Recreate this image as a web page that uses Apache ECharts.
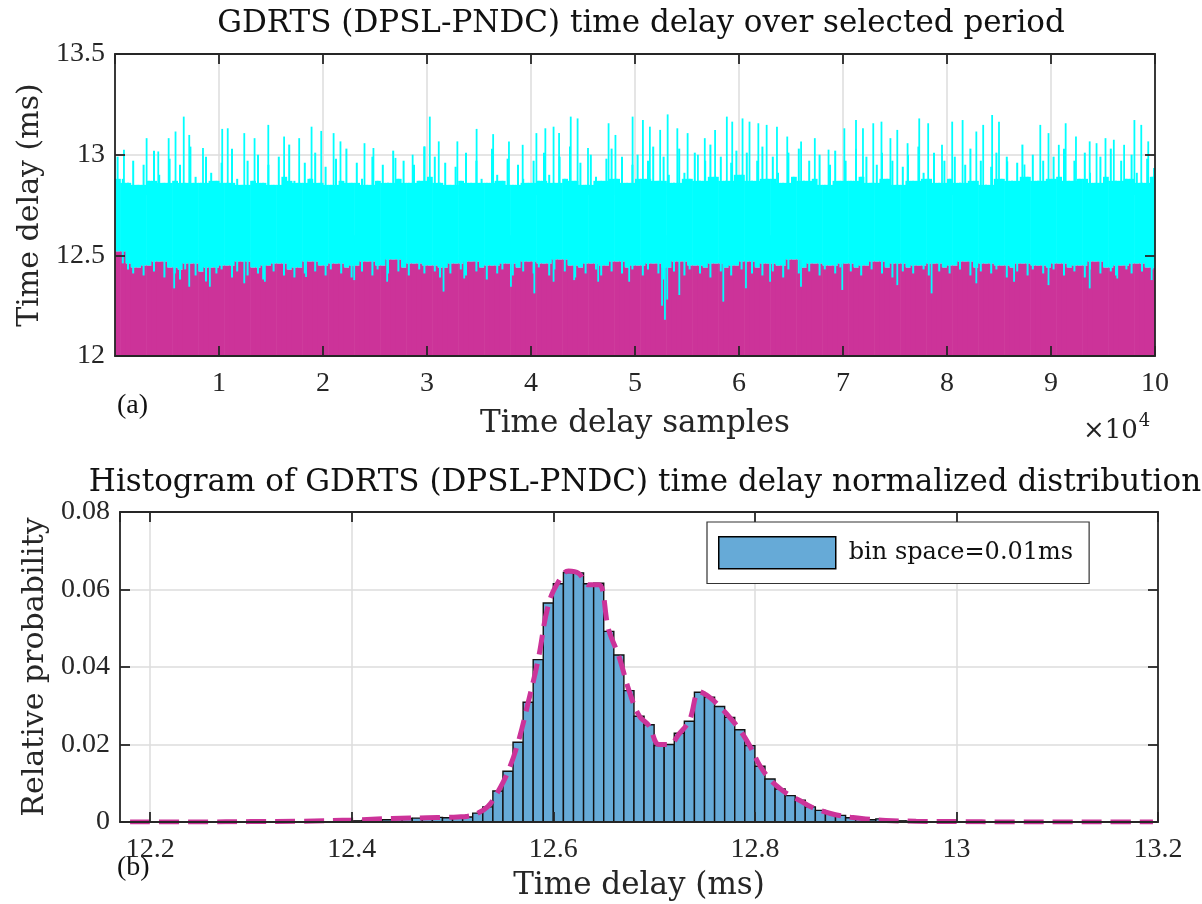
<!DOCTYPE html>
<html>
<head>
<meta charset="utf-8">
<script src="https://cdn.jsdelivr.net/npm/echarts@6/dist/echarts.min.js"></script>
<style>
html,body{margin:0;padding:0;background:#fff;}
#chart{width:1202px;height:904px;}
</style>
</head>
<body>
<div id="chart"></div>
<script>
// ---------------- DATA ----------------
// Panel (a): per 500-sample bucket, highest and lowest delay (ms)
const bucketSize = 500;
const bandMax = [
12.99,12.88,12.86,12.97,12.85,12.95,12.87,13.02,12.90,12.86,12.98,12.87,12.95,12.86,13.04,12.89,12.86,12.99,12.91,12.87,
12.96,12.86,13.03,12.88,12.85,12.97,12.87,13.00,12.86,12.95,12.85,12.99,12.89,13.05,12.87,12.86,12.96,12.88,13.01,12.86,
12.94,12.85,12.98,12.87,13.03,12.86,12.96,12.88,12.85,12.99,12.87,12.95,12.86,13.02,12.88,12.97,12.86,12.95,12.87,13.04,
12.89,12.99,12.86,12.96,12.85,12.94,12.87,13.01,12.86,12.97,12.88,12.86,13.03,12.90,12.87,12.98,12.85,12.95,12.88,12.86,
12.97,12.87,13.01,12.90,12.86,12.99,12.88,13.04,12.87,12.96,12.85,13.00,12.89,12.87,12.98,13.03,12.88,12.99,12.86,12.95,
13.00,12.88,12.97,13.04,12.87,12.99,12.90,12.86,13.03,12.91,12.88,13.01,12.87,12.97,13.05,12.89,12.99,12.87,12.96,13.02,
12.90,13.01,12.87,12.97,13.04,12.88,12.99,12.91,12.86,13.01,12.89,13.03,12.87,12.97,12.88,13.00,12.85,12.95,13.02,12.87,
12.97,12.87,13.03,12.89,12.99,12.86,12.95,13.01,12.88,12.97,12.85,12.94,13.00,12.87,13.04,12.91,12.88,13.01,12.86,12.97,
12.88,12.99,12.86,12.95,13.03,12.87,12.97,12.85,12.94,13.01,12.88,12.99,12.87,12.96,13.05,12.89,13.00,12.87,12.97,12.88,
12.99,12.89,13.03,12.87,12.97,12.88,13.01,12.91,12.86,12.99,12.89,13.03,12.87,12.97,12.88,13.00,12.91,12.86,12.98,12.89
];
const bandMin = [
12.52,12.46,12.43,12.41,12.44,12.40,12.45,12.42,12.47,12.39,12.44,12.41,12.38,12.43,12.46,12.40,12.42,12.37,12.44,12.41,
12.43,12.45,12.39,12.42,12.47,12.40,12.44,12.41,12.38,12.45,12.42,12.46,12.40,12.43,12.39,12.44,12.41,12.47,12.42,12.45,
12.40,12.43,12.46,12.41,12.44,12.39,12.45,12.42,12.47,12.40,12.43,12.45,12.41,12.48,12.42,12.44,12.40,12.46,12.43,12.41,
12.45,12.42,12.39,12.44,12.41,12.46,12.43,12.40,12.47,12.42,12.44,12.38,12.45,12.41,12.43,12.46,12.40,12.44,12.42,12.47,
12.41,12.44,12.46,12.40,12.43,12.48,12.42,12.45,12.39,12.44,12.41,12.46,12.43,12.40,12.45,12.42,12.47,12.41,12.44,12.43,
12.45,12.40,12.43,12.46,12.41,12.38,12.44,12.42,12.47,12.40,12.43,12.45,12.41,12.44,12.39,12.46,12.42,12.44,12.40,12.45,
12.43,12.47,12.41,12.44,12.40,12.46,12.42,12.45,12.39,12.43,12.48,12.41,12.44,12.42,12.46,12.40,12.43,12.45,12.41,12.44,
12.46,12.42,12.44,12.40,12.45,12.43,12.47,12.41,12.44,12.39,12.46,12.42,12.44,12.41,12.45,12.43,12.40,12.46,12.42,12.44,
12.41,12.45,12.43,12.47,12.40,12.44,12.42,12.46,12.41,12.43,12.45,12.39,12.44,12.42,12.46,12.40,12.43,12.45,12.41,12.44,
12.43,12.46,12.40,12.44,12.42,12.45,12.39,12.43,12.47,12.41,12.44,12.42,12.40,12.45,12.43,12.41,12.46,12.42,12.44,12.43
];
// isolated upward peaks: [sample index, delay ms]
const upperPeaks = [
[860,13.025],[3040,13.082],[4160,13.016],[5160,13.082],[5820,13.115],[6610,13.189],[7140,13.098],[8460,13.033],
[10310,13.128],[10840,13.131],[12430,13.107],[13420,13.082],[14740,13.148],[16260,13.090],[17710,13.082],[18900,13.139],
[19830,13.118],[21020,13.107],[21680,13.066],[23990,13.057],[24850,13.033],[26970,12.984],[28620,13.000],[29750,13.041],
[30270,13.189],[31130,13.066],[32920,13.066],[34770,13.128],[36360,13.102],[37880,13.066],[39200,13.049],[40520,13.107],
[41380,13.131],[42170,13.139],[42700,13.107],[43820,13.189],[44480,13.180],[45480,13.033],[47460,13.156],[48120,13.098],
[49770,13.189],[50760,13.172],[51430,13.139],[52420,13.123],[53140,13.200],[54070,13.131],[55060,13.107],[56050,13.000],
[56710,13.082],[57700,13.123],[58830,13.189],[59350,13.164],[60340,13.180],[61010,13.164],[61860,13.156],[62660,13.148],
[63650,13.139],[64640,13.090],[65970,13.066],[67290,13.082],[68610,13.025],[70130,13.131],[71250,13.172],[71920,13.131],
[72910,13.156],[73700,13.164],[74560,13.082],[75220,13.123],[76210,13.057],[77330,13.180],[78190,13.156],[79520,13.049],
[80500,13.164],[81500,13.172],[82820,13.115],[83480,13.148],[84340,13.197],[85000,13.164],[85800,12.967],[87450,12.951],
[88970,13.148],[89760,13.107],[90750,13.049],[91410,13.156],[92400,13.090],[93720,13.066],[94380,13.057],[95240,13.082],
[96040,13.074],[97030,13.049],[98020,13.172],[98680,13.148],[99350,13.066],[99900,12.934]
];
// isolated downward dips: [sample index, delay ms]
const lowerDips = [
[5690,12.336],[7140,12.344],[9120,12.344],[12430,12.361],[14410,12.369],[18370,12.393],[23000,12.377],[26170,12.369],
[31590,12.320],[33580,12.385],[38070,12.344],[40320,12.311],[42170,12.369],[44150,12.377],[46460,12.369],[49440,12.369],
[52600,12.250],[52880,12.180],[53100,12.280],[54260,12.303],[58490,12.270],[60670,12.336],[62990,12.369],[65960,12.344],
[69930,12.328],[75220,12.352],[78520,12.311],[82820,12.361],[86450,12.369],[89760,12.352],[93720,12.336],[96370,12.385],
[99680,12.377]
];

// Panel (b): histogram, bin left edges (ms) and relative probability
const binWidth = 0.01;
const binLeft = [12.40,12.41,12.42,12.43,12.44,12.45,12.46,12.47,12.48,12.49,12.50,12.51,12.52,12.53,12.54,12.55,12.56,12.57,12.58,12.59,
12.60,12.61,12.62,12.63,12.64,12.65,12.66,12.67,12.68,12.69,12.70,12.71,12.72,12.73,12.74,12.75,12.76,12.77,12.78,12.79,
12.80,12.81,12.82,12.83,12.84,12.85,12.86,12.87,12.88,12.89,12.90,12.91,12.92,12.93,12.94,12.95];
const binProb = [0.0003,0.0004,0.0005,0.0006,0.0008,0.0009,0.0010,0.0012,0.0012,0.0011,0.0012,0.0013,0.0023,0.0039,0.0080,0.0131,0.0206,0.0309,0.0419,0.0565,
0.0615,0.0644,0.0643,0.0615,0.0616,0.0492,0.0431,0.0339,0.0273,0.0251,0.0197,0.0200,0.0229,0.0260,0.0335,0.0322,0.0298,0.0270,0.0238,0.0197,
0.0144,0.0111,0.0085,0.0068,0.0056,0.0039,0.0030,0.0021,0.0017,0.0011,0.0009,0.0006,0.0008,0.0003,0.0003,0.0002];
// fitted distribution (dashed curve)
const fitX = [12.18,12.25,12.30,12.35,12.40,12.44,12.475,12.495,12.505,12.515,12.525,12.535,12.545,12.555,12.565,12.575,12.585,12.595,
12.605,12.615,12.625,12.635,12.645,12.655,12.665,12.675,12.685,12.695,12.705,12.715,12.725,12.735,12.745,12.755,12.765,12.775,12.785,12.795,
12.805,12.815,12.825,12.835,12.845,12.855,12.865,12.875,12.885,12.895,12.91,12.93,12.96,13.00,13.05,13.10,13.15,13.195];
const fitY = [0,0,0.0001,0.0002,0.0005,0.0009,0.0011,0.0012,0.0013,0.0015,0.0023,0.0040,0.0078,0.0130,0.0205,0.0308,0.0420,0.0560,
0.0620,0.0648,0.0642,0.0612,0.0612,0.0495,0.0428,0.0340,0.0275,0.0248,0.0200,0.0200,0.0228,0.0262,0.0336,0.0322,0.0298,0.0270,0.0238,0.0196,
0.0145,0.0110,0.0086,0.0068,0.0055,0.0040,0.0030,0.0022,0.0016,0.0012,0.0008,0.0004,0.0002,0.0001,0,0,0,0];

// ---------------- STYLE ----------------
const serifWords = '"DejaVu Serif", serif';
const serifNum = '"Liberation Serif", serif';
const axisCol = '#262626';
const gridCol = '#dcdcdc';
const cyan = '#00FFFF';
const magenta = '#CC3399';
const histBlue = '#66AAD7';

function frameAxes(gridIndex, kind, opts) {
  const base = Object.assign({ type: 'value', gridIndex: gridIndex }, opts.range);
  const main = Object.assign({}, base, {
    position: kind === 'x' ? 'bottom' : 'left',
    z: 10,
    axisLine: { show: true, onZero: false, lineStyle: { color: axisCol, width: 1.8 } },
    axisTick: { show: true, inside: true, length: 10, lineStyle: { color: axisCol, width: 1.8 } },
    axisLabel: Object.assign({ color: axisCol, fontFamily: serifNum, fontSize: 28, margin: kind === 'x' ? 14 : 10 }, opts.label || {}),
    splitLine: { show: false },
    name: opts.name, nameLocation: 'middle', nameGap: opts.nameGap,
    nameTextStyle: { color: axisCol, fontFamily: serifWords, fontSize: opts.nameSize }
  });
  const opp = Object.assign({}, base, {
    position: kind === 'x' ? 'top' : 'right',
    z: 10,
    axisLine: { show: true, onZero: false, lineStyle: { color: axisCol, width: 1.8 } },
    axisTick: { show: true, inside: true, length: 10, lineStyle: { color: axisCol, width: 1.8 } },
    axisLabel: { show: false },
    splitLine: { show: false }
  });
  const gl = Object.assign({}, base, {
    position: kind === 'x' ? 'bottom' : 'left',
    z: 0,
    axisLine: { show: false, onZero: false },
    axisTick: { show: false },
    axisLabel: { show: false },
    splitLine: { show: true, lineStyle: { color: gridCol, width: 1.5 } }
  });
  return [main, opp, gl];
}

const topX = frameAxes(0, 'x', {
  range: { min: 0, max: 100000, interval: 10000 },
  label: { showMinLabel: false, formatter: v => String(v / 10000) },
  name: 'Time delay samples', nameGap: 52, nameSize: 31
});
const topY = frameAxes(0, 'y', {
  range: { min: 12, max: 13.5, interval: 0.5 },
  name: 'Time delay (ms)', nameGap: 66, nameSize: 30
});
const botX = frameAxes(1, 'x', {
  range: { min: 12.17, max: 13.2, minInterval: 0.2, maxInterval: 0.2 },
  label: { showMinLabel: false },
  name: 'Time delay (ms)', nameGap: 48, nameSize: 31
});
const botY = frameAxes(1, 'y', {
  range: { min: 0, max: 0.08, interval: 0.02 },
  name: 'Relative probability', nameGap: 70, nameSize: 30
});

// per bucket: [start, end, low, high, body bottom, body top]; body = what the neighbouring buckets share
const bandData = bandMax.map((mx, i) => {
  const a = Math.max(0, i - 1), b = Math.min(bandMax.length - 1, i + 1);
  const bodyTop = Math.min(bandMax[a], mx, bandMax[b]);
  const bodyBottom = Math.max(bandMin[a], bandMin[i], bandMin[b]);
  return [i * bucketSize, (i + 1) * bucketSize, bandMin[i], mx, bodyBottom, bodyTop];
});
const peakData = upperPeaks.map(p => [p[0], 12.8, p[1]]);
const dipData = lowerDips.map(p => [p[0], p[1], 12.6]);
const histData = binLeft.map((l, i) => [l, l + binWidth, binProb[i]]);
const fitData = fitX.map((x, i) => [x, fitY[i]]);

const chart = echarts.init(document.getElementById('chart'), null, { renderer: 'canvas' });

chart.setOption({
  animation: false,
  backgroundColor: '#ffffff',
  title: [
    { text: 'GDRTS (DPSL-PNDC) time delay over selected period', left: 636, top: 3, textAlign: 'center',
      textStyle: { fontFamily: serifWords, fontSize: 31, fontWeight: 'normal', color: '#111' } },
    { text: 'Histogram of GDRTS (DPSL-PNDC) time delay normalized distribution', left: 640, top: 462, textAlign: 'center',
      textStyle: { fontFamily: serifWords, fontSize: 31, fontWeight: 'normal', color: '#111' } }
  ],
  grid: [
    { left: 115, right: 47, top: 54, bottom: 548, containLabel: false },
    { left: 120, right: 44, top: 512, bottom: 82, containLabel: false }
  ],
  xAxis: [topX[0], topX[1], topX[2], botX[0], botX[1], botX[2]],
  yAxis: [topY[0], topY[1], topY[2], botY[0], botY[1], botY[2]],
  legend: {
    data: ['bin space=0.01ms'],
    left: 707, top: 522,
    orient: 'horizontal',
    padding: [14, 16, 14, 11],
    itemWidth: 117, itemHeight: 32,
    backgroundColor: '#fff', borderColor: '#333', borderWidth: 1.2, borderRadius: 0,
    icon: 'rect',
    itemStyle: { color: histBlue, borderColor: '#000', borderWidth: 1.5 },
    textStyle: { fontFamily: serifWords, fontSize: 24, color: '#111', padding: [0, 0, 0, 8] },
    selectedMode: false, z: 20
  },
  graphic: [
    { type: 'text', left: 117, top: 392, style: { text: '(a)', font: '28px "Liberation Serif", serif', fill: '#111' } },
    { type: 'text', left: 117, top: 854, style: { text: '(b)', font: '28px "Liberation Serif", serif', fill: '#111' } },
    { type: 'text', left: 1083, top: 412, style: {
        text: '{a|×10}{b|4}',
        rich: { a: { fontFamily: serifWords, fontSize: 26, fill: '#222', padding: [12, 0, 0, 0] },
                b: { fontFamily: serifWords, fontSize: 18, fill: '#222', padding: [0, 0, 8, 1] } } } }
  ],
  series: [
    {
      type: 'custom', name: 'delay', xAxisIndex: 0, yAxisIndex: 0, z: 2, clip: true,
      data: bandData,
      encode: { x: [0, 1], y: [2, 3] },
      renderItem: function (params, api) {
        const x0 = api.value(0), x1 = api.value(1);
        const lo = api.value(2), hi = api.value(3), bLo = api.value(4), bHi = api.value(5);
        const pBase = api.coord([x0, 12]);
        const pEnd = api.coord([x1, 12]);
        const yLo = api.coord([x0, lo])[1], yHi = api.coord([x0, hi])[1];
        const yBLo = api.coord([x0, bLo])[1], yBHi = api.coord([x0, bHi])[1];
        const w = pEnd[0] - pBase[0] + 0.6;
        const cx = (pBase[0] + pEnd[0]) / 2;
        return { type: 'group', children: [
          { type: 'rect', shape: { x: pBase[0], y: yBLo, width: w, height: pBase[1] - yBLo }, style: { fill: magenta } },
          { type: 'rect', shape: { x: pBase[0], y: yBHi, width: w, height: yBLo - yBHi }, style: { fill: cyan } },
          { type: 'rect', shape: { x: cx - 1, y: yHi, width: 2, height: yLo - yHi }, style: { fill: cyan } }
        ] };
      }
    },
    {
      type: 'custom', name: 'peaks', xAxisIndex: 0, yAxisIndex: 0, z: 3, clip: true,
      data: peakData.concat(dipData),
      encode: { x: 0, y: [1, 2] },
      renderItem: function (params, api) {
        const p0 = api.coord([api.value(0), api.value(1)]);
        const p1 = api.coord([api.value(0), api.value(2)]);
        return { type: 'rect', shape: { x: p0[0] - 0.9, y: p1[1], width: 1.8, height: p0[1] - p1[1] }, style: { fill: cyan } };
      }
    },
    {
      type: 'custom', name: 'bin space=0.01ms', xAxisIndex: 3, yAxisIndex: 3, z: 2, clip: true,
      data: histData,
      encode: { x: [0, 1], y: 2 },
      itemStyle: { color: histBlue, borderColor: '#000', borderWidth: 1.5 },
      renderItem: function (params, api) {
        const a = api.coord([api.value(0), api.value(2)]);
        const b = api.coord([api.value(1), 0]);
        return { type: 'rect', shape: { x: a[0], y: a[1], width: b[0] - a[0], height: b[1] - a[1] },
                 style: { fill: histBlue, stroke: '#111', lineWidth: 1.4 } };
      }
    },
    {
      type: 'line', name: 'fit', xAxisIndex: 3, yAxisIndex: 3, z: 4,
      data: fitData, showSymbol: false, symbol: 'none', smooth: 0.4,
      lineStyle: { color: magenta, width: 5, type: [20, 9] }
    }
  ]
});
</script>
</body>
</html>
